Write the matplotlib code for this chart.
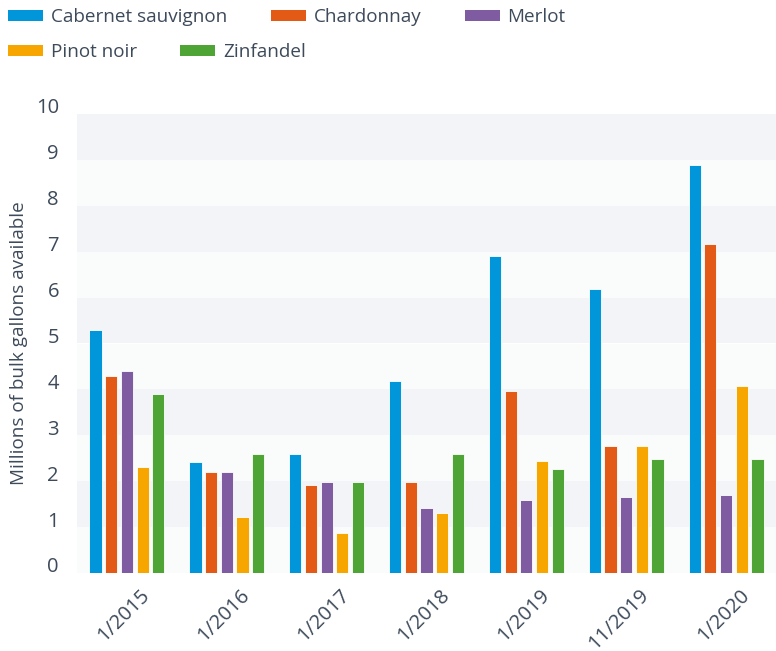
import numpy as np
import matplotlib
matplotlib.use("Agg")
import matplotlib.pyplot as plt
import matplotlib.transforms as mtransforms
from matplotlib.patches import Patch

# data
periods = ["1/2015", "1/2016", "1/2017", "1/2018", "1/2019", "11/2019", "1/2020"]
varieties = ["Cabernet sauvignon", "Chardonnay", "Merlot", "Pinot noir", "Zinfandel"]
cabernet = [5.29, 2.42, 2.59, 4.18, 6.90, 6.18, 8.89]
chardonnay = [4.30, 2.19, 1.92, 1.98, 3.97, 2.76, 7.17]
merlot = [4.41, 2.19, 1.98, 1.42, 1.60, 1.65, 1.71]
pinot = [2.31, 1.21, 0.87, 1.31, 2.43, 2.76, 4.08]
zinfandel = [3.91, 2.59, 1.98, 2.59, 2.26, 2.48, 2.48]
series = [cabernet, chardonnay, merlot, pinot, zinfandel]
y_ticks = list(range(0, 11))

colors = ["#0096d9", "#e35a17", "#7f5ca2", "#f7a600", "#4ea535"]
text_col = "#3d4a5a"

plt.rcParams['font.family'] = ['Open Sans', 'DejaVu Sans']

fig = plt.figure(figsize=(7.76, 6.51), dpi=100)
ax = fig.add_axes([77/776, 1-573/651, 1-77/776, (573-114)/651])

# alternating bands
for lo in range(0, 10):
    ax.axhspan(lo, lo+1, color="#f3f4f8" if lo % 2 == 1 else "#fafbfb", lw=0, zorder=0)

x = np.arange(len(periods))
step = 0.157
width = 0.122
for k, (vals, c) in enumerate(zip(series, colors)):
    ax.bar(x + (k-2)*step, vals, width=width, color=c, edgecolor="white",
           linewidth=0.6, zorder=2)

ax.set_xlim(-0.5, len(periods)-0.5)
ax.set_ylim(0, 10)
for s in ax.spines.values():
    s.set_visible(False)
ax.tick_params(length=0)

ax.set_yticks(y_ticks)
ax.set_yticklabels([str(t) for t in y_ticks], fontsize=14.5, color=text_col)
ax.tick_params(axis='y', pad=13)
off_y = mtransforms.ScaledTranslation(0, 8/100, fig.dpi_scale_trans)
for lab in ax.get_yticklabels():
    lab.set_transform(lab.get_transform() + off_y)

ax.set_xticks(x)
ax.set_xticklabels(periods, fontsize=14.5, color=text_col, rotation=45,
                   ha='right', va='top', rotation_mode='anchor')
ax.tick_params(axis='x', pad=9)
off_x = mtransforms.ScaledTranslation(13/100, 0, fig.dpi_scale_trans)
for lab in ax.get_xticklabels():
    lab.set_transform(lab.get_transform() + off_x)

ax.set_ylabel("Millions of bulk gallons available", fontsize=13.6, color=text_col)
ax.yaxis.set_label_coords((28 - 77)/699, 0.5)

# legend in two rows, flowing like the original
handles = [Patch(facecolor=c, edgecolor='none') for c in colors]
leg_kw = dict(frameon=False, fontsize=13.6, handlelength=1.85, handleheight=0.5,
              handletextpad=0.42, borderaxespad=0, borderpad=0, labelcolor=text_col)
leg1 = fig.legend(handles[:3], varieties[:3], ncol=3, loc='center left',
                  bbox_to_anchor=(8/776, 1-17/651), columnspacing=2.3, **leg_kw)
leg2 = fig.legend(handles[3:], varieties[3:], ncol=2, loc='center left',
                  bbox_to_anchor=(8/776, 1-52/651), columnspacing=2.3, **leg_kw)

fig.savefig("out.png", dpi=100)
